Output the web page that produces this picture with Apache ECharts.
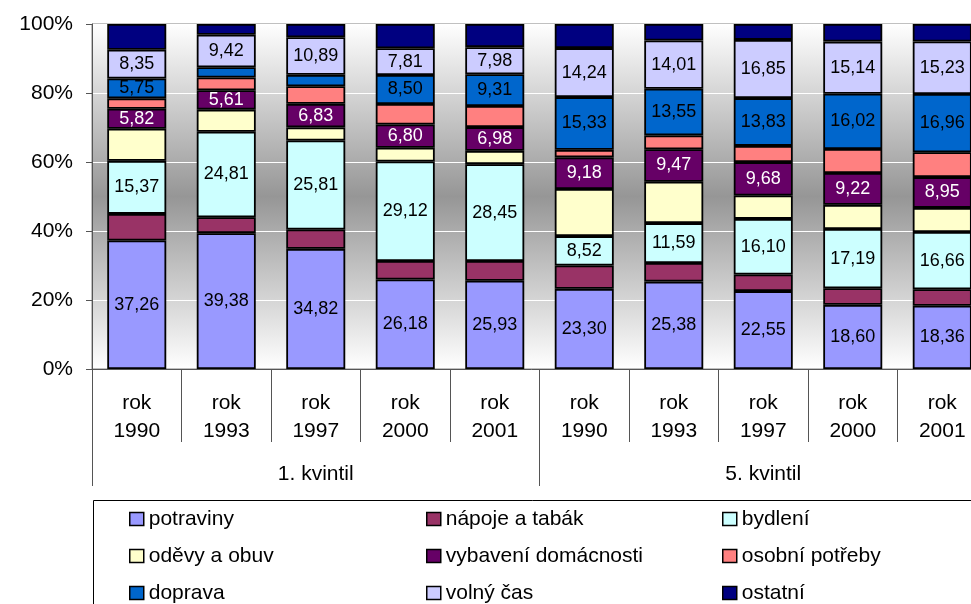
<!DOCTYPE html>
<html lang="cs">
<head>
    <meta charset="UTF-8">
    <title>Struktura výdajů</title>
    <style>
        body {
            margin: 0px;
            padding: 0px;
            background: #ffffff;
        }

        #chart {
            width: 971px;
            height: 604px;
        }
    </style>
</head>
<body>
    <div id="chart"></div>
    <script src="https://cdn.jsdelivr.net/npm/echarts@6/dist/echarts.min.js"></script>
    <script>
        // kategorie a skupiny
        var categories = ['rok\n1990', 'rok\n1993', 'rok\n1997', 'rok\n2000', 'rok\n2001',
                          'rok\n1990', 'rok\n1993', 'rok\n1997', 'rok\n2000', 'rok\n2001'];
        var groups = ['1. kvintil', '5. kvintil'];
        var names = ['potraviny', 'nápoje a tabák', 'bydlení', 'oděvy a obuv', 'vybavení domácnosti',
                     'osobní potřeby', 'doprava', 'volný čas', 'ostatní'];

        // hodnoty (podíly v %)
        var potraviny = [37.26, 39.38, 34.82, 26.18, 25.93, 23.30, 25.38, 22.55, 18.60, 18.36];
        var napoje    = [7.7, 4.6, 5.6, 5.4, 5.8, 6.8, 5.4, 4.8, 4.8, 4.8];
        var bydleni   = [15.37, 24.81, 25.81, 29.12, 28.45, 8.52, 11.59, 16.10, 17.19, 16.66];
        var odevy     = [9.3, 6.4, 3.8, 4.0, 3.9, 13.7, 12.0, 6.75, 7.0, 7.0];
        var vybaveni  = [5.82, 5.61, 6.83, 6.80, 6.98, 9.18, 9.47, 9.68, 9.22, 8.95];
        var osobni    = [3.0, 3.7, 5.1, 6.0, 6.2, 2.2, 4.0, 4.7, 6.95, 7.2];
        var doprava   = [5.75, 3.0, 3.3, 8.50, 9.31, 15.33, 13.55, 13.83, 16.02, 16.96];
        var volny     = [8.35, 9.42, 10.89, 7.81, 7.98, 14.24, 14.01, 16.85, 15.14, 15.23];
        var ostatni   = [7.45, 3.1, 3.85, 7.1, 6.8, 7.0, 4.8, 4.6, 5.1, 5.1];

        // ktere segmenty maji popisek
        var labeled = [
            [1, 1, 1, 1, 1, 1, 1, 1, 1, 1],
            [0, 0, 0, 0, 0, 0, 0, 0, 0, 0],
            [1, 1, 1, 1, 1, 1, 1, 1, 1, 1],
            [0, 0, 0, 0, 0, 0, 0, 0, 0, 0],
            [1, 1, 1, 1, 1, 1, 1, 1, 1, 1],
            [0, 0, 0, 0, 0, 0, 0, 0, 0, 0],
            [1, 0, 0, 1, 1, 1, 1, 1, 1, 1],
            [1, 1, 1, 1, 1, 1, 1, 1, 1, 1],
            [0, 0, 0, 0, 0, 0, 0, 0, 0, 0]
        ];

        var colors = ['#9999FF', '#993366', '#CCFFFF', '#FFFFCC', '#660066',
                      '#FF8080', '#0066CC', '#CCCCFF', '#000080'];
        var yTicks = [0, 20, 40, 60, 80, 100];

        var font = "'Liberation Sans', Arial, sans-serif";
        var values = [potraviny, napoje, bydleni, odevy, vybaveni, osobni, doprava, volny, ostatni];

        // soucty pro 100% skladani
        var totals = categories.map(function (c, i) {
            var s = 0;
            values.forEach(function (v) { s += v[i]; });
            return s;
        });

        var series = values.map(function (arr, si) {
            return {
                name: names[si],
                type: 'bar',
                stack: 'total',
                barWidth: 59,
                itemStyle: { color: colors[si], borderColor: '#000', borderWidth: 1.8 },
                label: {
                    show: true,
                    position: 'inside',
                    fontFamily: font,
                    fontSize: 18,
                    color: si === 4 ? '#fff' : '#000',
                    formatter: function (p) {
                        if (!labeled[si][p.dataIndex]) return '';
                        return arr[p.dataIndex].toFixed(2).replace('.', ',');
                    }
                },
                data: arr.map(function (v, i) { return v / totals[i] * 100; })
            };
        });

        var legendCols = [[0, 3, 6], [1, 4, 7], [2, 5, 8]];
        var legendLeft = [129, 426, 722];
        var legends = legendCols.map(function (col, ci) {
            return {
                orient: 'vertical',
                left: legendLeft[ci],
                top: 508,
                padding: 0,
                itemGap: 15,
                itemWidth: 14,
                itemHeight: 13,
                icon: 'rect',
                selectedMode: false,
                itemStyle: { borderColor: '#000', borderWidth: 1.5 },
                textStyle: { fontFamily: font, fontSize: 21, lineHeight: 22, color: '#000' },
                data: col.map(function (k) { return names[k]; })
            };
        });

        var chart = echarts.init(document.getElementById('chart'));
        var option = {
            animation: false,
            backgroundColor: '#ffffff',
            grid: {
                left: 92,
                top: 24,
                width: 895,
                height: 345,
                outerBoundsMode: 'none',
                show: true,
                borderColor: '#808080',
                borderWidth: 1,
                backgroundColor: new echarts.graphic.LinearGradient(0, 0, 0, 1, [
                    { offset: 0, color: '#ffffff' },
                    { offset: 0.5, color: '#969696' },
                    { offset: 1, color: '#ffffff' }
                ])
            },
            legend: legends,
            graphic: [{
                type: 'rect',
                shape: { x: 93.5, y: 500.5, width: 900, height: 200 },
                style: { fill: 'none', stroke: '#000', lineWidth: 1 },
                silent: true
            }],
            xAxis: [{
                type: 'category',
                data: categories,
                position: 'bottom',
                axisLine: { show: true, lineStyle: { color: '#555', width: 1 } },
                axisTick: { show: true, interval: 0, length: 73, lineStyle: { color: '#555', width: 1 } },
                axisLabel: {
                    interval: 0,
                    margin: 20,
                    fontFamily: font,
                    fontSize: 21,
                    lineHeight: 28,
                    color: '#000'
                }
            }, {
                type: 'category',
                data: groups,
                position: 'bottom',
                axisLine: { show: false },
                axisTick: { show: true, interval: 0, length: 117, lineStyle: { color: '#555', width: 1 } },
                axisLabel: {
                    interval: 0,
                    margin: 95,
                    fontFamily: font,
                    fontSize: 21,
                    color: '#000'
                }
            }],
            yAxis: {
                type: 'value',
                min: yTicks[0],
                max: yTicks[yTicks.length - 1],
                interval: 20,
                axisLine: { show: true, lineStyle: { color: '#555' } },
                axisTick: { show: true, length: 6, lineStyle: { color: '#555' } },
                splitLine: { lineStyle: { color: '#ffffff', width: 1 } },
                axisLabel: {
                    margin: 19,
                    fontFamily: font,
                    fontSize: 21,
                    color: '#000',
                    formatter: '{value}%'
                }
            },
            series: series
        };
        chart.setOption(option);
    </script>
</body>
</html>
